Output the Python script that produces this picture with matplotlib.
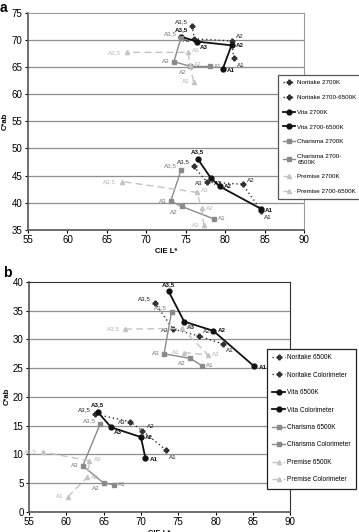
import matplotlib.pyplot as plt

plt.rcParams['font.family'] = ['Liberation Sans', 'DejaVu Sans']

labels = ["A1", "A2", "A3", "A3,5"]

# panel a, upper cluster (2700K) and lower cluster (2700-6500K)
nor_2700_L = [81.1, 80.8, 76.1, 75.8]
nor_2700_C = [66.6, 69.8, 70.2, 72.6]
nor_mix_L = [84.6, 82.2, 77.7, 76.0]
nor_mix_C = [38.5, 43.4, 43.8, 46.7]
vita_2700_L = [79.7, 80.8, 76.4, 74.4]
vita_2700_C = [64.7, 69.0, 69.7, 70.6]
vita_mix_L = [84.5, 79.3, 78.2, 76.5]
vita_mix_C = [38.9, 43.0, 44.5, 48.1]
cha_2700_L = [78.1, 75.6, 73.5, 74.4]
cha_2700_C = [65.1, 65.1, 66.0, 70.4]
cha_mix_L = [78.6, 74.5, 73.1, 74.4]
cha_mix_C = [37.0, 39.3, 40.3, 46.0]
pre_2700_L = [76.0, 75.5, 75.3, 67.5]
pre_2700_C = [62.3, 65.4, 67.7, 67.7]
pre_mix_L = [77.3, 77.0, 76.4, 66.9]
pre_mix_C = [35.8, 39.0, 41.9, 43.9]

# panel b, 6500K and colorimeter
nor_65_L = [81.0, 77.8, 74.3, 71.9]
nor_65_C = [29.2, 30.6, 31.8, 36.3]
nor_col_L = [73.4, 70.2, 68.5, 63.8]
nor_col_C = [10.7, 14.1, 15.7, 17.0]
vita_65_L = [85.2, 79.7, 75.8, 73.7]
vita_65_C = [25.3, 31.5, 33.1, 38.4]
vita_col_L = [70.6, 70.0, 66.0, 64.2]
vita_col_C = [9.3, 13.0, 14.7, 17.4]
cha_65_L = [78.2, 76.6, 73.1, 74.1]
cha_65_C = [25.4, 26.7, 27.5, 34.7]
cha_col_L = [66.4, 65.0, 62.2, 64.5]
cha_col_C = [4.7, 5.0, 8.0, 15.2]
pre_65_L = [75.8, 79.0, 75.5, 67.9]
pre_65_C = [27.7, 27.3, 31.9, 31.8]
pre_col_L = [60.2, 62.8, 63.1, 56.8]
pre_col_C = [2.6, 6.0, 8.9, 10.4]

STYLE = {
    'Noritake': dict(color='#333333', ls=(0, (1, 2)), lw=1.0, marker='P', ms=3.3, lcol='#222222', weight='normal'),
    'Vita': dict(color='#111111', ls='-', lw=1.3, marker='o', ms=3.5, lcol='#111111', weight='bold'),
    'Charisma': dict(color='#8a8a8a', ls='-', lw=1.0, marker='s', ms=3.0, lcol='#777777', weight='normal'),
    'Premise': dict(color='#c4c4c4', ls=(0, (5, 3)), lw=1.0, marker='^', ms=3.0, lcol='#b4b4b4', weight='normal'),
}
# label offsets (points) for A1, A2, A3, A3,5
OFFS = {
    'Noritake': [(2, -5), (3, 3), (-3, -1), (-3, 3)],
    'Vita': [(3, -1), (3, 0), (2, -4), (0, 5)],
    'Charisma': [(3, 0), (-3, -4), (-3, 0), (-3, 3)],
    'Premise': [(-3, 0), (3, 0), (3, 1), (-4, 0)],
}


def draw_series(ax, brand, L, C, legend_label):
    s = STYLE[brand]
    ax.plot(L, C, color=s['color'], ls=s['ls'], lw=s['lw'], marker=s['marker'],
            ms=s['ms'], mfc=s['color'], mec=s['color'], label=legend_label, zorder=3)
    for x, y, t, (dx, dy) in zip(L, C, labels, OFFS[brand]):
        ha = 'right' if dx < 0 else ('center' if dx == 0 else 'left')
        ax.annotate(t, (x, y), xytext=(dx, dy), textcoords='offset points', fontsize=4.5,
                    color=s['lcol'], weight=s['weight'], ha=ha, va='center')


def setup_axes(ax, ylim, step, frame_col):
    ax.set_xlim(55, 90)
    ax.set_ylim(*ylim)
    ax.set_xticks(range(55, 91, 5))
    ax.set_yticks(range(ylim[0], ylim[1] + 1, step))
    ax.tick_params(labelsize=7, length=2.5, width=0.8, direction='out', pad=1.5)
    for y in range(ylim[0] + step, ylim[1], step):
        ax.axhline(y, color='#8f8f8f', lw=0.9, zorder=1)
    ax.spines['left'].set_color('#555555')
    ax.spines['bottom'].set_color('#555555')
    ax.spines['left'].set_linewidth(1.2)
    ax.spines['bottom'].set_linewidth(1.2)
    ax.spines['top'].set_color(frame_col)
    ax.spines['right'].set_color(frame_col)
    ax.set_xlabel('CIE L*', fontsize=5.5, weight='bold', labelpad=2)
    ax.set_ylabel('C*ab', fontsize=5.5, weight='bold')
    ax.yaxis.set_label_coords(-0.07, 0.5)


def make_legend(ax, x, y, spacing, edge, fs):
    leg = ax.legend(loc='upper left', bbox_to_anchor=(x, y), bbox_transform=fig.transFigure,
                    fontsize=fs, labelspacing=spacing, handlelength=2.0, handletextpad=0.3,
                    borderpad=0.8, borderaxespad=0, fancybox=False, framealpha=1,
                    edgecolor=edge)
    leg.get_frame().set_linewidth(0.9)
    return leg


fig = plt.figure(figsize=(3.59, 5.32), dpi=100)
fig.patch.set_facecolor('white')

ax1 = fig.add_axes([0.078, 0.568, 0.769, 0.408])
setup_axes(ax1, (35, 75), 5, '#9a9a9a')
draw_series(ax1, 'Noritake', nor_2700_L, nor_2700_C, 'Noritake 2700K')
draw_series(ax1, 'Noritake', nor_mix_L, nor_mix_C, 'Noritake 2700-6500K')
draw_series(ax1, 'Vita', vita_2700_L, vita_2700_C, 'Vita 2700K')
draw_series(ax1, 'Vita', vita_mix_L, vita_mix_C, 'Vita 2700-6500K')
draw_series(ax1, 'Charisma', cha_2700_L, cha_2700_C, 'Charisma 2700K')
draw_series(ax1, 'Charisma', cha_mix_L, cha_mix_C, 'Charisma 2700-\n6500K')
draw_series(ax1, 'Premise', pre_2700_L, pre_2700_C, 'Premise 2700K')
draw_series(ax1, 'Premise', pre_mix_L, pre_mix_C, 'Premise 2700-6500K')
make_legend(ax1, 0.774, 0.859, 1.5, '#555555', 4.5)

ax2 = fig.add_axes([0.081, 0.038, 0.727, 0.432])
setup_axes(ax2, (0, 40), 5, '#333333')
draw_series(ax2, 'Noritake', nor_65_L, nor_65_C, 'Noritake 6500K')
draw_series(ax2, 'Noritake', nor_col_L, nor_col_C, 'Noritake Colorimeter')
draw_series(ax2, 'Vita', vita_65_L, vita_65_C, 'Vita 6500K')
draw_series(ax2, 'Vita', vita_col_L, vita_col_C, 'Vita Colorimeter')
draw_series(ax2, 'Charisma', cha_65_L, cha_65_C, 'Charisma 6500K')
draw_series(ax2, 'Charisma', cha_col_L, cha_col_C, 'Charisma Colorimeter')
draw_series(ax2, 'Premise', pre_65_L, pre_65_C, 'Premise 6500K')
draw_series(ax2, 'Premise', pre_col_L, pre_col_C, 'Premise Colorimeter')
make_legend(ax2, 0.744, 0.344, 1.6, '#222222', 4.7)

fig.text(0.0, 0.998, 'a', fontsize=10, weight='bold', va='top')
fig.text(0.008, 0.5, 'b', fontsize=10, weight='bold', va='top')

fig.savefig('out.png', dpi=100)
